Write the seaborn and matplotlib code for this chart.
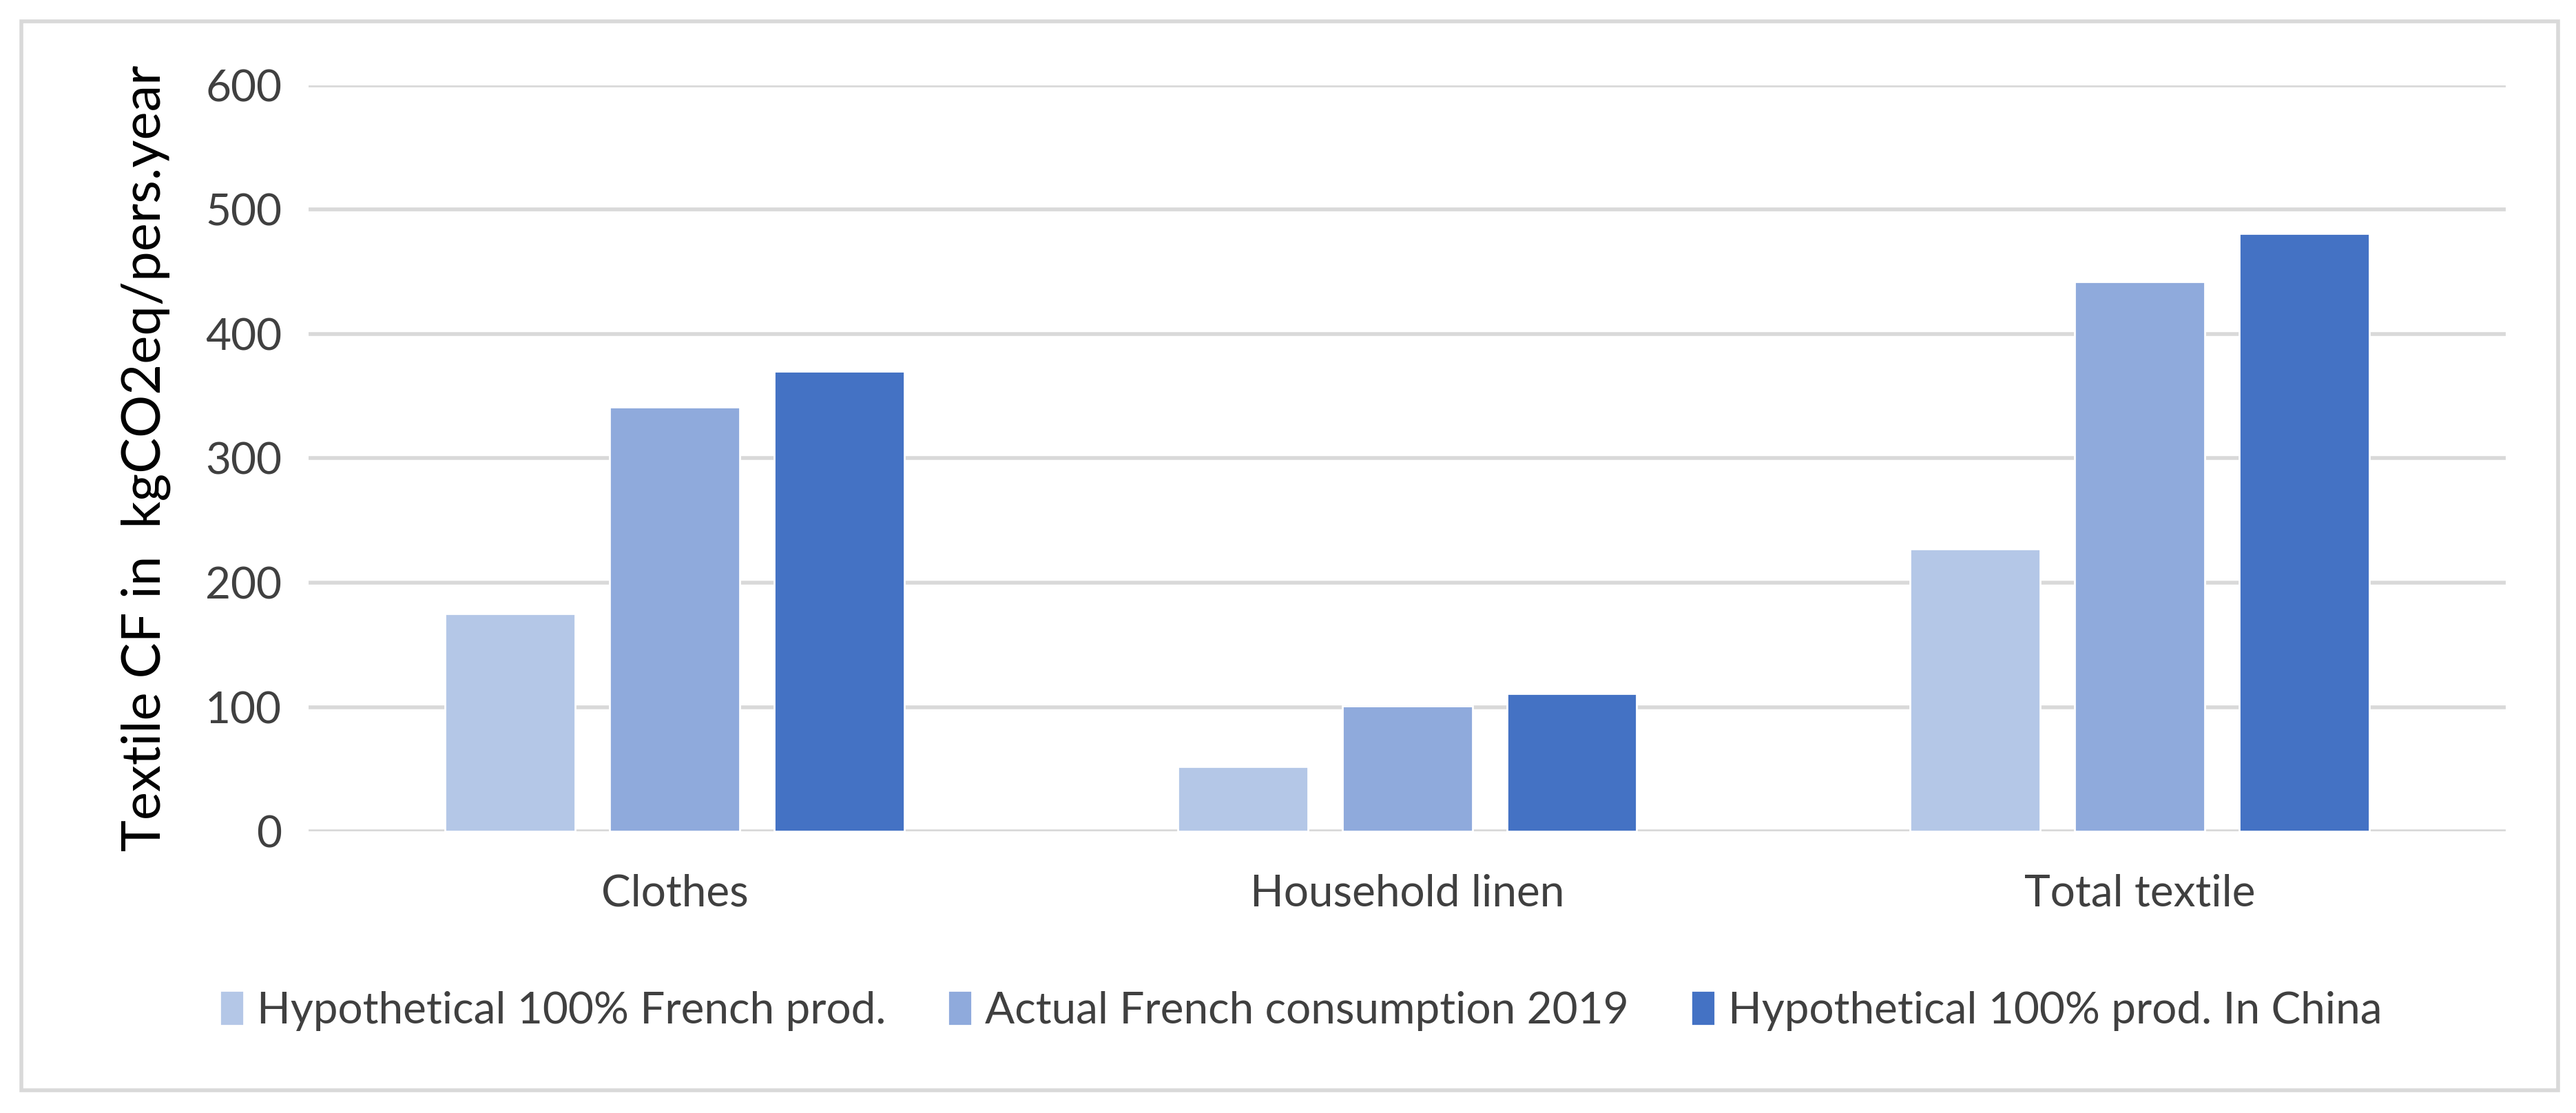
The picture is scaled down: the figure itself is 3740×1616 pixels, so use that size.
import matplotlib
matplotlib.use("Agg")
import matplotlib.pyplot as plt
import seaborn as sns
import pandas as pd
from matplotlib.patches import Rectangle

categories = ["Clothes", "Household linen", "Total textile"]
series = ["Hypothetical 100% French prod.", "Actual French consumption 2019", "Hypothetical 100% prod. In China"]
french_prod = [175, 52, 227]
actual_2019 = [341, 101, 442]
china_prod = [370, 111, 481]
colors = ["#B4C7E7", "#8FAADC", "#4472C4"]
yticks = [0, 100, 200, 300, 400, 500, 600]

rows = []
for s, vals in zip(series, [french_prod, actual_2019, china_prod]):
    for c, v in zip(categories, vals):
        rows.append({"category": c, "series": s, "value": v})
df = pd.DataFrame(rows)

sns.set_theme(style="white")
plt.rcParams['font.family'] = ['Lato', 'DejaVu Sans']

fig = plt.figure(figsize=(18.7, 8.08), dpi=200)
ax = fig.add_axes([0.1198, 0.253, 0.853, 0.6704])

sns.barplot(data=df, x="category", y="value", hue="series", hue_order=series,
            order=categories, palette=colors, width=0.674, gap=0.21,
            saturation=1, ax=ax, legend=True)

text_col = "#404040"
ax.set_ylim(0, 600)
ax.set_xlim(-0.5, 2.5)
ax.set_yticks(yticks)
ax.set_yticklabels([str(t) for t in yticks])
ax.yaxis.grid(True, color="#D9D9D9", linewidth=2)
ax.set_axisbelow(True)
for sp in ax.spines.values():
    sp.set_visible(False)
ax.tick_params(axis="both", length=0, labelsize=23, colors=text_col, pad=14)
ax.tick_params(axis="x", pad=22)
ax.set_xlabel("")
ax.set_ylabel("Textile CF in  kgCO2eq/pers.year", fontsize=28, color="black", labelpad=18)

handles, labels = ax.get_legend_handles_labels()
ax.get_legend().remove()
fig.legend(handles, labels, loc="center", bbox_to_anchor=(0.505, 0.092), ncol=3,
           frameon=False, fontsize=23, handlelength=0.55, handleheight=0.85,
           handletextpad=0.3, columnspacing=1.4, labelcolor=text_col)

fig.patches.append(Rectangle((31 / 3740, 1 - 1583 / 1616), (3714 - 31) / 3740, (1583 - 31) / 1616,
                             transform=fig.transFigure, fill=False, edgecolor="#D9D9D9",
                             linewidth=2, zorder=0))

fig.savefig("out.png", dpi=200, facecolor="white")
